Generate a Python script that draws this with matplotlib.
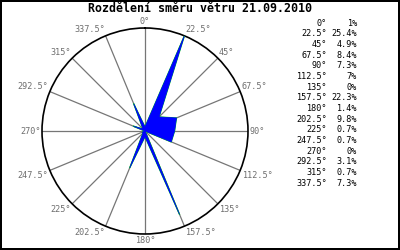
import numpy as np
import matplotlib
matplotlib.use("Agg")
import matplotlib.pyplot as plt

title = "Rozdělení směru větru 21.09.2010"
directions = [0, 22.5, 45, 67.5, 90, 112.5, 135, 157.5, 180, 202.5, 225, 247.5, 270, 292.5, 315, 337.5]
dir_labels = ["0°", "22.5°", "45°", "67.5°", "90°", "112.5°", "135°", "157.5°",
              "180°", "202.5°", "225°", "247.5°", "270°", "292.5°", "315°", "337.5°"]
percent = [1, 25.4, 4.9, 8.4, 7.3, 7, 0, 22.3, 1.4, 9.8, 0.7, 0.7, 0, 3.1, 0.7, 7.3]
percent_labels = ["1%", "25.4%", "4.9%", "8.4%", "7.3%", "7%", "0%", "22.3%",
                  "1.4%", "9.8%", "0.7%", "0.7%", "0%", "3.1%", "0.7%", "7.3%"]

W, H = 400, 250
fig = plt.figure(figsize=(W / 100, H / 100), dpi=100, linewidth=1.5, edgecolor="black")
fig.patch.set_facecolor("white")

cx, cy, R = 145, 131, 103
ax = fig.add_axes([(cx - R) / W, (H - cy - R) / H, 2 * R / W, 2 * R / H], projection="polar")
ax.set_theta_zero_location("N")
ax.set_theta_direction(-1)
rmax = max(percent)
ax.set_ylim(0, rmax)
ax.set_yticks([])
ax.set_xticks(np.deg2rad(directions))
ax.set_xticklabels([])
ax.xaxis.grid(True, color="#767676", linewidth=0.9)
ax.spines["polar"].set_color("black")
ax.spines["polar"].set_linewidth(1.2)
ax.set_facecolor("white")

for d, lab in zip(directions, dir_labels):
    a = np.deg2rad(d)
    s, c = np.sin(a), np.cos(a)
    ha = "center" if abs(s) < 1e-6 else ("left" if s > 0 else "right")
    va = "center" if abs(c) < 1e-6 else ("bottom" if c > 0 else "top")
    ax.text(a, rmax * 1.015, lab, ha=ha, va=va, family="DejaVu Sans Mono",
            fontsize=6.1, color="#6e6e6e", clip_on=False)

th = np.deg2rad(directions + [directions[0]])
rr = percent + [percent[0]]
ax.plot(th, rr, color="#00e000", linewidth=0.9, zorder=3)
ax.fill(th, rr, facecolor="#0000ff", edgecolor="#0000ff", linewidth=0.5, zorder=4)

fig.text(199.5 / W, 1 - 9 / H, title, ha="center", va="center",
         family="DejaVu Sans Mono", fontweight="bold", fontsize=8.4, color="black")

y0, dy = 23, 10.67
for i, (d, p) in enumerate(zip(dir_labels, percent_labels)):
    y = 1 - (y0 + i * dy) / H
    fig.text(327 / W, y, d, ha="right", va="center", family="DejaVu Sans Mono",
             fontsize=6.1, color="black")
    fig.text(357 / W, y, p, ha="right", va="center", family="DejaVu Sans Mono",
             fontsize=6.1, color="black")

fig.savefig("out.png", dpi=100, facecolor="white", edgecolor="black")
